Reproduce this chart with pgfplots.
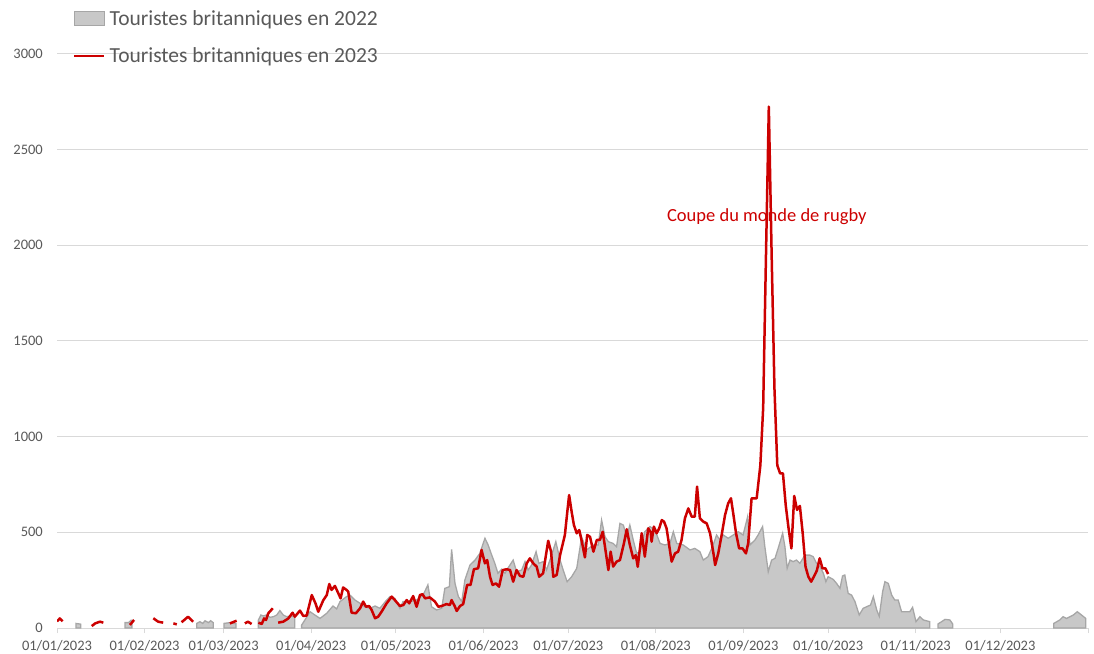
\documentclass[border=0pt]{standalone}
\usepackage{fontspec}
\setmainfont{Carlito}
\usepackage{pgfplots}
\pgfplotsset{compat=1.18}
\definecolor{areafill}{RGB}{200,200,200}
\definecolor{areaedge}{RGB}{166,166,166}
\definecolor{redline}{RGB}{204,0,0}
\definecolor{gridgray}{RGB}{217,217,217}
\definecolor{txtgray}{RGB}{89,89,89}

\begin{document}
\begin{tikzpicture}
\path[use as bounding box] (-57bp,-26bp) rectangle (1037bp,628bp);
\begin{axis}[
  at={(0,0)}, anchor=south west,
  scale only axis, width=1031bp, height=574bp,
  xmin=0, xmax=365, ymin=0, ymax=3000,
  axis x line*=bottom, axis y line*=left,
  x axis line style={draw=gridgray, line width=1bp},
  y axis line style={draw=none},
  ymajorgrids, major grid style={draw=gridgray, line width=1bp},
  ytick={0,500,...,3000},
  xtick={0,31,59,90,120,151,181,212,243,273,304,334},
  xticklabels={01/01/2023,01/02/2023,01/03/2023,01/04/2023,01/05/2023,01/06/2023,01/07/2023,01/08/2023,01/09/2023,01/10/2023,01/11/2023,01/12/2023},
  extra x ticks={365}, extra x tick labels={},
  tick align=outside, major tick length=5bp,
  xtick style={draw=gridgray, line width=1bp},
  ytick style={draw=none},
  /pgf/number format/assume math mode=true,
  /pgf/number format/1000 sep={},
  tick label style={font=\fontsize{14.5bp}{16bp}\selectfont, text=txtgray, inner sep=0pt},
  xticklabel style={yshift=-7bp},
  yticklabel style={xshift=-9bp},
  legend cell align=left,
  legend style={at={(0.0155,1.0767)}, anchor=north west, draw=none, fill=none,
    inner sep=0pt, row sep=21bp, column sep=4bp,
    font=\fontsize{21.5bp}{26bp}\selectfont, text=txtgray,
    nodes={inner sep=0pt}},
]
% 2022, area drawn in pieces where the series has data
\addplot[fill=areafill, draw=areaedge, line width=1.3bp,
  legend image code/.code={\draw[fill=areafill, draw=areaedge, line width=1.3bp] (0bp,-7bp) rectangle (30bp,7bp);}]
  coordinates {(71.3,42)(72.2,68)(73.0,63)(74.2,68)(75.4,56)(76.6,59)(77.8,68)(78.9,91)(80.1,68)(81.3,59)(82.5,63)(84.2,59)} \closedcycle;
\addlegendentry{Touristes britanniques en 2022}
\addplot[fill=areafill, draw=areaedge, line width=1.3bp, forget plot]
  coordinates {(6.7,24)(8.4,20)} \closedcycle;
\addplot[fill=areafill, draw=areaedge, line width=1.3bp, forget plot]
  coordinates {(24.1,28)(25.3,28)(26.2,40)(26.5,40)} \closedcycle;
\addplot[fill=areafill, draw=areaedge, line width=1.3bp, forget plot]
  coordinates {(49.5,24)(50.6,33)(51.6,24)(52.4,38)(53.6,28)(54.4,38)(55.3,28)} \closedcycle;
\addplot[fill=areafill, draw=areaedge, line width=1.3bp, forget plot]
  coordinates {(59.1,24)(61.2,28)(63.4,22)} \closedcycle;
\addplot[fill=areafill, draw=areaedge, line width=1.3bp, forget plot]
  coordinates {(86.6,15)(89.6,85)(91.3,68)(93.1,50)(95.5,77)(97.7,115)(99.0,100)(100.2,138)
  (102.5,164)(103.7,172)(105.5,146)(107.3,129)(109.0,111)(110.8,103)(112.6,115)(114.3,103)
  (116.7,146)(117.9,164)(119.6,155)(121.4,103)(122.5,138)(125.0,138)(127.3,146)(129.6,172)
  (131.3,225)(132.6,111)(134.4,94)(136.2,103)(137.3,207)(138.9,216)(139.7,411)(140.9,233)
  (142.1,164)(143.3,138)(144.4,251)(146.2,329)(148.0,355)(149.7,390)(151.5,469)(152.6,435)
  (153.9,381)(155.0,338)(156.1,286)(157.4,307)(158.6,286)(159.6,312)(161.5,355)(162.7,294)
  (164.5,303)(165.7,347)(166.8,303)(168.0,329)(169.6,399)(170.6,338)(172.1,347)(173.3,303)
  (175.1,381)(176.6,451)(178.1,355)(179.2,303)(180.6,242)(182.2,268)(184.0,312)(185.1,416)
  (185.7,477)(187.5,408)(189.8,434)(191.6,434)(192.8,564)(194.0,477)(195.2,451)(196.9,442)
  (198.1,425)(199.3,547)(200.5,538)(201.7,477)(202.8,538)(204.0,460)(205.2,390)(206.4,399)
  (208.1,503)(209.9,530)(211.7,512)(213.5,442)(215.2,434)(217.0,442)(218.2,503)(219.4,442)
  (221.7,434)(224.1,408)(225.8,416)(227.6,399)(228.8,355)(230.5,373)(232.3,434)(233.5,486)
  (234.7,460)(235.9,486)(237.6,469)(239.4,486)(241.2,503)(242.9,486)(244.5,582)(245.3,434)
  (247.1,460)(248.2,486)(249.8,530)(250.6,425)(251.8,294)(253.0,355)(254.2,364)(255.3,416)
  (256.9,495)(257.7,425)(258.5,312)(259.5,355)(260.6,347)(261.8,355)(263.0,338)(264.8,381)
  (266.5,381)(267.7,373)(268.9,338)(270.1,321)(271.3,286)(272.2,242)(273.0,268)(274.8,254)
  (276.0,233)(277.2,207)(278.1,272)(278.9,277)(280.1,181)(281.3,172)(282.5,138)(284.0,68)
  (285.4,103)(287.2,115)(288.0,120)(289.0,164)(290.2,94)(291.1,61)(292.3,190)(293.1,242)
  (294.3,233)(295.5,172)(296.6,146)(297.8,146)(299.0,85)(300.8,85)(301.9,85)(302.9,108)
  (304.1,33)(305.5,59)(306.7,42)(309.0,33)} \closedcycle;
\addplot[fill=areafill, draw=areaedge, line width=1.3bp, forget plot]
  coordinates {(311.9,21)(314.4,45)(316.1,42)(317.1,21)} \closedcycle;
\addplot[fill=areafill, draw=areaedge, line width=1.3bp, forget plot]
  coordinates {(352.9,24)(355.0,42)(356.2,59)(357.4,50)(358.6,59)(359.8,68)(361.2,85)(362.7,68)(364.2,50)} \closedcycle;

% 2023, line with gaps
\addplot[redline, line width=2.5bp, line join=round, unbounded coords=jump,
  legend image code/.code={\draw[redline, line width=2.5bp] (0bp,0bp) -- (30bp,0bp);}]
  coordinates {(0,35)(1,50)(2,35)(2.5,nan)
  (12.3,10)(13.5,24)(15.2,33)(16.4,28)(17,nan)
  (25.8,16)(27.3,42)(28,nan)
  (34.1,51)(35.8,33)(37.6,28)(38,nan)
  (41.2,24)(42.4,19)(43,nan)
  (44.1,30)(46.4,59)(48.2,33)(49,nan)
  (61.2,24)(63.6,38)(64,nan)
  (66.5,24)(67.6,33)(68.9,21)(69.5,nan)
  (71.3,28)(72.5,21)(73.3,50)(74.0,42)(74.8,77)(76.4,103)(77,nan)
  (78.3,28)(80.1,33)(81.9,50)(83.4,80)(84.2,59)(86.0,91)(87.2,63)(88.4,65)(90.2,172)(91.5,129)
  (92.5,85)(94.3,146)(95.5,172)(96.4,230)(97.2,199)(98.4,220)(99.6,181)(100.4,155)(101.3,212)
  (102.5,199)(103.1,190)(104.3,80)(105.8,77)(107.3,103)(108.4,138)(109.4,111)(110.5,115)
  (111.4,94)(112.6,51)(113.7,59)(114.9,85)(116.7,129)(118.5,164)(119.6,146)(121.4,115)
  (122.6,120)(123.8,146)(124.7,129)(126.1,167)(127.3,111)(128.5,172)(129.4,177)(130.3,155)
  (132.0,160)(133.8,138)(135.0,111)(136.2,115)(137.9,125)(139.1,120)(139.7,146)(140.9,111)
  (141.5,89)(142.7,115)(143.8,125)(145.2,225)(146.4,225)(147.6,307)(149.1,312)(150.3,408)
  (151.5,338)(152.3,355)(153.3,268)(154.2,225)(155.4,233)(156.5,216)(157.8,303)(159.2,307)
  (160.4,303)(161.5,242)(162.7,303)(163.9,272)(165.1,268)(166.3,338)(167.4,364)(168.6,338)
  (169.8,321)(170.7,268)(172.1,286)(173.1,381)(173.9,456)(174.9,399)(175.7,268)(176.9,277)
  (178.1,381)(179.8,486)(180.6,599)(181.3,695)(182.2,607)(183.0,538)(184.0,495)(184.9,512)
  (185.8,451)(186.9,369)(187.7,486)(188.7,477)(189.9,399)(191.1,460)(192.2,460)(193.2,503)
  (194.0,425)(195.2,303)(196.0,399)(196.9,321)(198.1,347)(199.3,355)(200.7,442)(201.7,516)
  (202.8,434)(204.0,364)(204.9,381)(205.6,320)(207.0,495)(208.1,373)(209.3,521)(210.2,500)
  (210.5,451)(211.3,530)(212.3,495)(213.2,521)(214.1,564)(214.9,556)(215.8,521)(216.8,425)
  (217.6,347)(218.8,390)(219.9,399)(221.1,460)(222.3,573)(223.5,625)(224.7,582)(225.8,582)
  (226.6,739)(227.6,573)(228.8,556)(230.0,547)(231.2,495)(232.4,390)(233.0,329)(234.1,390)
  (235.3,486)(236.5,590)(237.6,651)(238.6,678)(239.4,599)(240.4,495)(241.5,416)(242.7,416)
  (243.9,390)(244.7,443)(245.9,678)(247.7,678)(249,850)(250,1150)(251,1950)(252,2725)
  (253,1950)(254,1250)(255,850)(256,808)(257,808)(258,640)(259,520)(260,416)(261,690)
  (262,617)(263,638)(264,495)(265,320)(266,268)(267,242)(268,270)(269,300)(270,364)
  (271,312)(272,312)(273,282)};
\addlegendentry{Touristes britanniques en 2023}

\node[text=redline, font=\fontsize{18.5bp}{22bp}\selectfont] at (axis cs:251.3,2150) {Coupe du monde de rugby};
\end{axis}
\end{tikzpicture}
\end{document}
